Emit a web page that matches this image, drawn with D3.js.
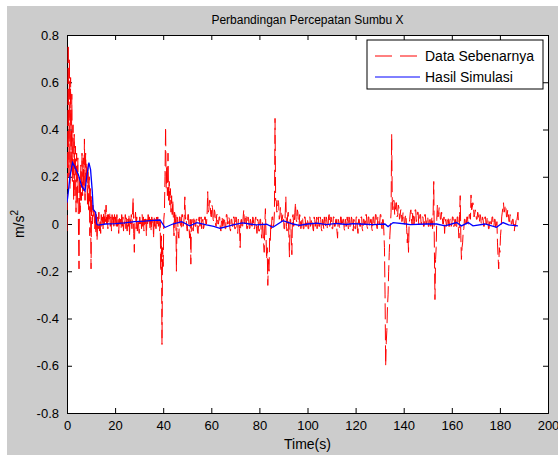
<!DOCTYPE html>
<html><head><meta charset="utf-8">
<script src="https://cdn.jsdelivr.net/npm/d3@7"></script>
<style>
html,body{margin:0;padding:0;background:#fff;}
text{font-family:"Liberation Sans",Arial,sans-serif;fill:#000;}
</style></head>
<body>
<svg id="chart" width="558" height="457"></svg>
<script>
// ---- data ----
const titleText = "Perbandingan Percepatan Sumbu X";
const xTicks = [0,20,40,60,80,100,120,140,160,180,200];
const yTicks = [-0.8,-0.6,-0.4,-0.2,0,0.2,0.4,0.6,0.8];
const seriesNames = ["Data Sebenarnya","Hasil Simulasi"];
const dataStep = 0.25; // seconds between measured samples
const dataValues = [
 -0.03,0.3,0.76,0.2,0.7,0.15,0.62,0.22,0.55,0.18,0.42,0.1,0.38,0.12,0.33,0.05,0.3,0.08,0.28,0.0,
 -0.19,0.2,0.05,0.25,0.1,0.3,0.12,0.28,0.14,0.36,0.1,0.3,0.18,0.26,0.08,0.24,0.05,0.2,-0.05,0.15,
 -0.19,0.12,0.0,0.08,0.03,0.06,-0.02,0.05,-0.04,0.04,-0.07,0.03,-0.02,0.05,-0.03,0.02,-0.04,0.04,-0.01,0.03,
 -0.02,0.05,0.0,0.06,0.01,0.08,0.0,0.05,-0.02,0.04,0.02,0.05,-0.01,0.03,-0.03,0.04,0.0,0.03,-0.02,0.04,
 0.0,0.03,-0.02,0.04,-0.01,0.02,-0.04,0.03,0.0,0.02,-0.02,0.04,-0.01,0.03,-0.03,0.02,0.0,0.04,-0.02,0.03,
 -0.03,0.02,-0.01,0.04,-0.05,0.03,0.0,0.04,-0.02,0.05,0.11,-0.04,-0.12,0.02,0.05,-0.02,0.03,-0.03,0.02,0.0,
 -0.04,0.03,0.0,0.02,-0.02,0.04,-0.01,0.03,-0.03,0.02,0.0,0.03,-0.05,0.02,-0.01,0.04,0.0,0.03,-0.02,0.02,
 -0.03,0.03,0.0,0.02,-0.06,0.03,-0.01,0.02,-0.02,0.04,0.0,0.03,-0.01,0.02,-0.03,0.01,-0.2,-0.05,-0.51,-0.1,
 -0.18,0.02,0.05,0.2,0.41,0.15,0.25,0.12,0.3,0.1,0.18,0.08,0.15,0.05,0.12,0.04,0.1,0.02,-0.05,0.06,
 0.0,0.04,-0.2,0.03,0.02,-0.04,-0.06,0.03,0.03,-0.02,-0.02,0.04,0.04,-0.01,0.0,0.03,0.115,0.02,0.03,-0.01,
 -0.03,0.04,0.04,-0.02,-0.06,0.02,-0.17,0.01,0.02,-0.02,-0.03,0.03,0.03,-0.01,-0.01,0.02,0.02,-0.03,-0.04,0.02,
 0.03,-0.01,0.0,0.03,-0.02,0.01,0.02,-0.02,-0.01,0.03,0.03,0.0,0.0,0.04,0.137,0.05,0.06,0.1,0.1,0.04,
 0.03,0.08,0.07,0.02,0.01,0.06,0.05,0.0,-0.01,0.04,0.04,0.0,0.0,0.03,0.03,-0.02,-0.03,0.02,0.03,-0.01,
 0.0,0.03,0.02,-0.02,-0.02,0.04,0.04,0.0,0.0,0.03,0.02,-0.02,-0.03,0.02,0.02,-0.01,-0.01,0.03,0.03,-0.02,
 -0.02,0.03,0.02,-0.03,-0.04,0.02,0.01,-0.02,-0.1,0.01,0.02,-0.01,-0.02,0.03,0.06,0.01,0.0,0.04,0.03,-0.02,
 -0.02,0.03,0.02,-0.01,-0.03,0.02,0.01,-0.02,-0.01,0.03,0.02,-0.02,-0.02,0.02,0.03,-0.01,-0.04,0.02,0.01,-0.03,
 -0.03,0.02,0.02,-0.04,-0.06,0.01,-0.02,-0.08,-0.12,0.0,0.065,-0.05,-0.15,-0.1,-0.26,-0.15,-0.2,-0.06,-0.08,0.0,
 -0.02,0.03,0.03,-0.01,0.0,0.05,0.447,0.1,0.1,0.05,0.06,0.1,0.09,0.02,0.03,0.07,0.05,0.01,0.02,0.04,
 0.04,-0.02,-0.02,0.05,0.115,-0.01,-0.03,0.04,0.05,-0.05,-0.14,0.02,0.02,-0.06,-0.13,0.03,0.04,-0.01,0.0,0.05,
 0.09,0.02,0.01,0.06,0.05,-0.01,-0.01,0.04,0.03,-0.02,0.0,0.03,0.02,-0.02,-0.02,0.03,0.03,-0.01,-0.01,0.02,
 0.02,-0.02,-0.02,0.03,0.03,-0.01,0.0,0.02,0.02,-0.02,-0.03,0.03,0.02,-0.01,0.01,0.03,-0.02,0.02,0.03,-0.01,
 -0.01,0.03,0.02,-0.02,-0.03,0.02,0.01,-0.02,0.03,0.01,-0.01,0.03,0.02,-0.02,-0.02,0.03,0.04,-0.01,0.0,0.03,
 0.02,-0.02,-0.02,0.03,0.03,-0.01,-0.01,0.02,0.02,-0.03,-0.06,0.02,0.01,-0.01,-0.02,0.03,0.03,-0.01,0.0,0.02,
 0.02,-0.02,-0.03,0.02,0.01,-0.01,0.03,0.01,-0.02,0.03,0.02,-0.02,-0.01,0.03,0.02,-0.02,-0.03,0.02,0.01,-0.02,
 -0.02,0.03,0.03,-0.02,-0.04,0.02,0.02,-0.01,-0.01,0.03,0.03,-0.02,-0.03,0.02,0.02,0.0,0.0,0.04,0.04,-0.01,
 -0.02,0.03,0.03,-0.01,-0.01,0.02,0.02,-0.02,-0.03,0.03,0.03,-0.01,0.0,0.04,0.04,-0.01,-0.02,0.03,0.03,0.0,
 0.0,0.04,0.04,-0.01,-0.02,0.03,0.02,-0.03,-0.1,-0.3,-0.6,-0.5,-0.45,-0.35,-0.3,-0.2,-0.12,-0.05,0.0,0.05,
 0.38,0.1,0.06,0.1,0.1,0.04,0.05,0.09,0.09,0.03,0.04,0.08,0.07,0.02,0.03,0.06,0.06,0.01,0.02,0.05,
 0.04,0.0,0.0,0.04,0.03,-0.02,-0.08,-0.04,-0.12,0.0,0.02,0.05,0.06,0.01,0.0,0.05,0.05,0.0,0.01,0.06,
 0.06,0.01,0.02,0.05,0.05,0.0,0.0,0.04,0.04,0.0,0.01,0.03,0.03,-0.01,-0.01,0.04,0.04,0.0,0.0,0.03,
 0.03,-0.01,-0.01,0.03,0.02,-0.01,0.0,0.03,-0.02,0.05,0.18,-0.1,-0.32,-0.15,-0.1,0.02,0.08,0.03,0.04,0.07,
 0.06,0.02,0.02,0.05,0.04,0.0,0.0,0.03,-0.04,0.01,0.02,-0.01,0.0,0.03,0.03,-0.01,-0.01,0.02,0.02,-0.01,
 0.0,0.03,0.03,-0.01,-0.01,0.02,0.02,-0.02,-0.02,0.03,0.03,-0.02,-0.06,0.04,0.12,-0.05,-0.15,-0.1,-0.08,-0.03,
 -0.02,0.02,0.02,-0.01,-0.01,0.03,0.03,0.0,0.0,0.04,0.04,0.02,0.123,0.06,0.07,0.09,0.08,0.03,0.04,0.06,
 0.05,0.02,0.02,0.05,0.04,0.01,0.01,0.04,0.03,0.0,0.0,0.03,0.02,-0.01,-0.01,0.03,0.03,0.0,0.0,0.03,
 0.02,-0.02,-0.02,0.02,0.02,0.0,0.0,0.03,0.03,-0.01,-0.01,0.02,0.02,-0.02,-0.02,0.01,-0.08,-0.14,-0.19,-0.1,
 -0.12,-0.05,-0.02,0.03,0.05,0.07,0.09,0.05,0.06,0.08,0.07,0.03,0.03,0.06,0.05,0.01,0.01,0.04,0.03,0.0,
 0.0,0.02,0.02,-0.02,-0.03,0.0,-0.01,0.02,0.01,0.03,0.05,0.0
];
const simTime = [0,0.5,1.2,2.3,3.3,4.7,6.1,7.5,8.2,9.1,9.8,10.5,10.9,11.9,12.3,13,16,20,24,28,
 32,36,38.7,40.7,44,47.7,51,54,58,61,63.6,66,69,73,76,78.8,83,85.6,89.8,94,
 96.6,100,104,108,112,116,119,121.8,127.3,132.2,133.5,135.6,141,142.6,149.5,153.7,157.2,162,164,166.8,
 168.8,173.8,178.6,181.3,183.6,187.5];
const simValue = [0.09,0.13,0.2,0.26,0.24,0.21,0.16,0.14,0.2,0.26,0.23,0.14,0.06,0.05,0.0,-0.005,0.0,0.002,0.005,0.01,
 0.012,0.015,0.017,-0.015,0.0,0.01,-0.008,0.006,-0.004,-0.01,-0.018,-0.012,-0.004,0.005,0.0,-0.004,-0.001,-0.014,0.014,0.0,
 -0.006,0.0,0.004,-0.003,0.003,-0.002,0.002,0.0,-0.003,0.0,-0.011,0.006,0.0,-0.003,0.0,0.0,-0.008,0.006,-0.008,0.006,
 -0.008,0.0,-0.014,0.006,-0.004,-0.008];

// ---- layout ----
const svg = d3.select("#chart");
const W = 558, H = 457;
const L = 67, R = 548, T = 35, B = 413;

svg.append("rect").attr("x",7).attr("y",6).attr("width",W-7).attr("height",449).attr("fill","#cccccc");
svg.append("rect").attr("x",L).attr("y",T).attr("width",R-L).attr("height",B-T).attr("fill","#fff");

const x = d3.scaleLinear().domain([0,200]).range([L,R]);
const y = d3.scaleLinear().domain([-0.8,0.8]).range([B,T]);

svg.append("defs").append("clipPath").attr("id","clip")
  .append("rect").attr("x",L).attr("y",T).attr("width",R-L).attr("height",B-T);

const fmt = d => (Math.abs(d) < 1e-9 ? "0" : String(+d.toFixed(1)));

// axes with inward ticks
const gB = svg.append("g").attr("transform",`translate(0,${B})`)
  .call(d3.axisBottom(x).tickValues(xTicks).tickSize(-5).tickPadding(8).tickFormat(d=>String(d)));
const gT = svg.append("g").attr("transform",`translate(0,${T})`)
  .call(d3.axisTop(x).tickValues(xTicks).tickSize(-5).tickFormat(""));
const gL = svg.append("g").attr("transform",`translate(${L},0)`)
  .call(d3.axisLeft(y).tickValues(yTicks).tickSize(-5).tickPadding(8).tickFormat(fmt));
const gR = svg.append("g").attr("transform",`translate(${R},0)`)
  .call(d3.axisRight(y).tickValues(yTicks).tickSize(-5).tickFormat(""));
[gB,gT,gL,gR].forEach(g=>{
  g.selectAll("path.domain").attr("stroke","#000");
  g.selectAll("line").attr("stroke","#000");
  g.selectAll("text").style("font-family","Liberation Sans, Arial, sans-serif").style("font-size","13px").attr("fill","#000");
});
gB.selectAll("text").attr("dy","0.71em");

// data lines
const measured = dataValues.map((v,i)=>[i*dataStep, v]);
const simulated = simTime.map((t,i)=>[t, simValue[i]]);
const line = d3.line().x(d=>x(d[0])).y(d=>y(d[1]));
const plot = svg.append("g").attr("clip-path","url(#clip)");
plot.append("path").datum(measured).attr("d",line)
  .attr("fill","none").attr("stroke","#ff0000").attr("stroke-width",1).attr("stroke-dasharray","16,5");
plot.append("path").datum(simulated).attr("d",line)
  .attr("fill","none").attr("stroke","#0000ff").attr("stroke-width",1.3);

// title and labels
svg.append("text").attr("x",(L+R)/2).attr("y",24).attr("text-anchor","middle")
  .style("font-size","12px").text(titleText);
svg.append("text").attr("x",(L+R)/2).attr("y",449).attr("text-anchor","middle")
  .style("font-size","14px").text("Time(s)");
const yl = svg.append("text").attr("transform",`translate(24,${(T+B)/2}) rotate(-90)`)
  .attr("text-anchor","middle").style("font-size","14px");
yl.append("tspan").text("m/s");
yl.append("tspan").attr("dy","-6").style("font-size","10px").text("2");

// legend
const lg = svg.append("g");
lg.append("rect").attr("x",367).attr("y",40).attr("width",176).attr("height",49)
  .attr("fill","#fff").attr("stroke","#000").attr("stroke-width",1);
const legendColors = ["#ff0000","#0000ff"];
const legendDash = ["17,8",null];
seriesNames.forEach((name,i)=>{
  const yy = 56 + i*21;
  lg.append("line").attr("x1",375).attr("x2",420).attr("y1",yy).attr("y2",yy)
    .attr("stroke",legendColors[i]).attr("stroke-width",1)
    .attr("stroke-dasharray",legendDash[i]);
  lg.append("text").attr("x",425).attr("y",yy).attr("dy","0.36em")
    .style("font-size","14px").text(name);
});
</script>
</body></html>
